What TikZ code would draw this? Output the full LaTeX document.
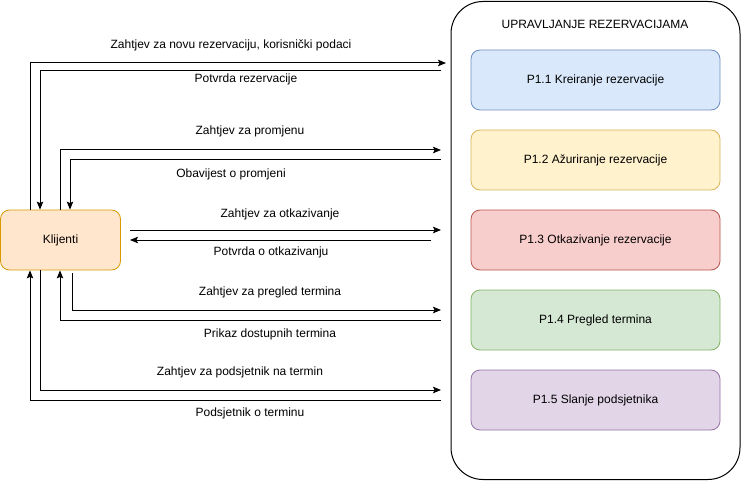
\documentclass[tikz,border=0pt]{standalone}
\usepackage{fontspec}
\setmainfont{Liberation Sans}
\usetikzlibrary{arrows.meta}
\definecolor{bluef}{HTML}{DAE8FC}\definecolor{blued}{HTML}{6C8EBF}
\definecolor{yelf}{HTML}{FFF2CC}\definecolor{yeld}{HTML}{D6B656}
\definecolor{redf}{HTML}{F8CECC}\definecolor{redd}{HTML}{B85450}
\definecolor{grnf}{HTML}{D5E8D4}\definecolor{grnd}{HTML}{82B366}
\definecolor{purf}{HTML}{E1D5E7}\definecolor{purd}{HTML}{9673A6}
\definecolor{orf}{HTML}{FFE6CC}\definecolor{ord}{HTML}{D79B00}
\tikzset{
  proc/.style={draw, rounded corners=9pt, minimum width=249pt, minimum height=60pt, line width=0.8pt, font=\fontsize{12}{14}\selectfont},
  lbl/.style={inner sep=0pt, font=\fontsize{12}{14}\selectfont},
  arr/.style={line width=1pt, -{Stealth[length=8pt,width=6.5pt,inset=1.5pt]}},
  ln/.style={line width=1pt},
}
\begin{document}
\begin{tikzpicture}[x=1pt,y=-1pt]
\useasboundingbox (0,0) rectangle (741,481);
% container
\node[draw, line width=1pt, rounded corners=32pt, minimum width=289pt, minimum height=478pt, fill=white] (sys) at (595.5,240.5) {};
\node[lbl] (title) at (595,24) {UPRAVLJANJE REZERVACIJAMA};
\node[proc, fill=bluef, draw=blued] (p1) at (595.5,80) {P1.1 Kreiranje rezervacije};
\node[proc, fill=yelf, draw=yeld] (p2) at (595.5,160) {P1.2 Ažuriranje rezervacije};
\node[proc, fill=redf, draw=redd] (p3) at (595.5,240) {P1.3 Otkazivanje rezervacije};
\node[proc, fill=grnf, draw=grnd] (p4) at (595.5,320) {P1.4 Pregled termina};
\node[proc, fill=purf, draw=purd] (p5) at (595.5,400) {P1.5 Slanje podsjetnika};
\node[draw=ord, fill=orf, line width=0.8pt, rounded corners=9pt, minimum width=120pt, minimum height=60pt, font=\fontsize{12}{14}\selectfont] (kl) at (60.5,240) {Klijenti};
% endpoints
\coordinate (a1) at (446,63); \coordinate (b1) at (441,71);
\coordinate (a2) at (441,150); \coordinate (b2) at (441,160);
\coordinate (s3) at (130,230); \coordinate (a3) at (441,230);
\coordinate (b3) at (431,240); \coordinate (t3) at (130,240);
\coordinate (s4) at (72,273);
\coordinate (a4) at (441,310); \coordinate (b4) at (441,320);
\coordinate (a5) at (441,390); \coordinate (b5) at (441,400);
% 1
\draw[arr] ([xshift=-30.5pt]kl.north) |- (a1);
\draw[arr] (b1) -| ([xshift=-20.5pt]kl.north);
% 2
\draw[arr] ([xshift=-0.5pt]kl.north) |- (a2);
\draw[arr] (b2) -| ([xshift=9.5pt]kl.north);
% 3
\draw[arr] (s3) -- (a3);
\draw[arr] (b3) -- (t3);
% 4
\draw[arr] (s4) |- (a4);
\draw[arr] (b4) -| ([xshift=-0.5pt]kl.south);
% 5
\draw[arr] ([xshift=-20.5pt]kl.south) |- (a5);
\draw[arr] (b5) -| ([xshift=-30.5pt]kl.south);
% labels
\node[lbl] (l1) at (231,45.5) {Zahtjev za novu rezervaciju, korisnički podaci};
\node[lbl] (l2) at (246,79) {Potvrda rezervacije};
\node[lbl] (l3) at (250,131.5) {Zahtjev za promjenu};
\node[lbl] (l4) at (231,174) {Obavijest o promjeni};
\node[lbl] (l5) at (280,214.5) {Zahtjev za otkazivanje};
\node[lbl] (l6) at (271,252.5) {Potvrda o otkazivanju};
\node[lbl] (l7) at (270,292) {Zahtjev za pregled termina};
\node[lbl] (l8) at (270,334.5) {Prikaz dostupnih termina};
\node[lbl] (l9) at (240,372.5) {Zahtjev za podsjetnik na termin};
\node[lbl] (l10) at (250,413) {Podsjetnik o terminu};
\end{tikzpicture}
\end{document}
